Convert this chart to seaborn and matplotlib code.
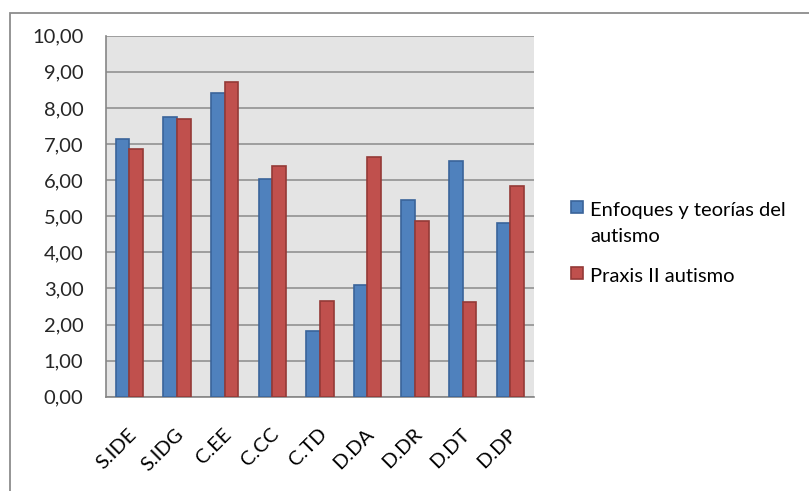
import matplotlib
matplotlib.use("Agg")
import matplotlib.pyplot as plt
import matplotlib.patches as mpatches
import matplotlib.transforms as mtransforms
from matplotlib.ticker import FixedLocator, FuncFormatter
import seaborn as sns
import pandas as pd

categories = ["S.IDE", "S.IDG", "C.EE", "C.CC", "C.TD", "D.DA", "D.DR", "D.DT", "D.DP"]
enfoques = [7.15, 7.76, 8.41, 6.02, 1.82, 3.09, 5.46, 6.54, 4.81]
praxis = [6.87, 7.70, 8.73, 6.39, 2.66, 6.63, 4.86, 2.61, 5.84]
series_names = ["Enfoques y teorías del autismo", "Praxis II autismo"]
legend_lines = [["Enfoques y teorías del", "autismo"], ["Praxis II autismo"]]
y_ticks = [0, 1, 2, 3, 4, 5, 6, 7, 8, 9, 10]

fill_colors = ["#4F81BD", "#C0504D"]
edge_colors = ["#3A649A", "#943A37"]

df = pd.DataFrame({
    "categoria": categories * 2,
    "valor": enfoques + praxis,
    "serie": [series_names[0]] * len(categories) + [series_names[1]] * len(categories),
})

sns.set_theme(style="white")
plt.rcParams["font.family"] = ["Lato", "DejaVu Sans"]
FS = 14.5

W, H = 809, 491
fig = plt.figure(figsize=(W / 100, H / 100), dpi=100)
ax = fig.add_axes([105.7 / W, 1 - 396.7 / H, (534 - 105.7) / W, (396.7 - 35.7) / H])

sns.barplot(data=df, x="categoria", y="valor", hue="serie", order=categories,
            hue_order=series_names, palette=fill_colors, width=0.574, gap=0,
            linewidth=1.2, saturation=1, ax=ax, legend=False, zorder=3)

for container, ec in zip(ax.containers, edge_colors):
    for bar in container:
        bar.set_edgecolor(ec)

ax.set_facecolor("#E4E4E4")
ax.set_xlim(-0.5, len(categories) - 0.5)
ax.set_ylim(0, 10)
ax.set_xlabel("")
ax.set_ylabel("")

ax.yaxis.set_major_locator(FixedLocator(y_ticks))
ax.yaxis.set_major_formatter(FuncFormatter(lambda v, p: f"{v:.2f}".replace(".", ",")))
ax.grid(axis="y", color="#8A8A8A", linewidth=1.1, zorder=0)
ax.set_axisbelow(True)

ax.xaxis.set_minor_locator(FixedLocator([i - 0.5 for i in range(len(categories) + 1)]))
ax.tick_params(axis="x", which="major", length=0, pad=25, labelsize=FS, colors="black")
ax.tick_params(axis="x", which="minor", length=5, width=1.1, color="#868686", direction="out")
ax.tick_params(axis="y", which="major", length=5, width=1.1, color="#868686",
               direction="out", labelsize=FS, pad=11)
shift = mtransforms.ScaledTranslation(4 / 100, 0, fig.dpi_scale_trans)
for lbl in ax.get_xticklabels():
    lbl.set_rotation(45)
    lbl.set_ha("right")
    lbl.set_va("center")
    lbl.set_rotation_mode("anchor")
    lbl.set_transform(lbl.get_transform() + shift)

for side in ["top", "right"]:
    ax.spines[side].set_visible(False)
for side in ["left", "bottom"]:
    ax.spines[side].set_color("#868686")
    ax.spines[side].set_linewidth(1.2)

# Legend: square key aligned with the first line of each entry
def px(x, y):
    return x / W, 1 - y / H

baselines = [[216, 242], [282]]
for fc, ec, lines, ys in zip(fill_colors, edge_colors, legend_lines, baselines):
    kx, ky = px(571, ys[0] - 3)
    fig.patches.append(mpatches.Rectangle((kx, ky), 12 / W, 12 / H,
                                          transform=fig.transFigure,
                                          facecolor=fc, edgecolor=ec, linewidth=1.2))
    for line, yb in zip(lines, ys):
        tx, ty = px(590, yb)
        fig.text(tx, ty, line, fontsize=FS, va="baseline", ha="left", color="black")

border = mpatches.Rectangle((10 / W, -0.1), 1.2, 1 - 12.5 / H + 0.1,
                            transform=fig.transFigure, fill=False,
                            edgecolor="#8C8C8C", linewidth=1.3, clip_on=False)
fig.patches.append(border)

fig.savefig("out.png", dpi=100)
